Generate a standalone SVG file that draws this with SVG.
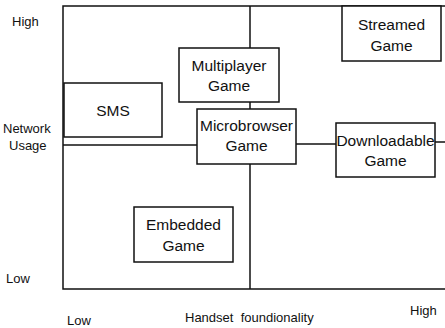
<svg xmlns="http://www.w3.org/2000/svg" width="445" height="328" viewBox="0 0 445 328">
<style>
.b{fill:#fff;stroke:#111;stroke-width:1.5}
.l{fill:none;stroke:#111;stroke-width:1.5}
text{font-family:"Liberation Sans",Arial,sans-serif;fill:#111}
.t{font-size:15.5px;text-anchor:middle}
.a{font-size:13px}
</style>
<g id="connectors">
<polyline class="l" points="445,6 63,6 63,289 445,289"/>
<line class="l" x1="250" y1="6" x2="250" y2="48"/>
<line class="l" x1="250" y1="102" x2="250" y2="109"/>
<line class="l" x1="250" y1="164" x2="250" y2="289"/>
<line class="l" x1="63" y1="145" x2="197" y2="145"/>
<line class="l" x1="296" y1="144" x2="336" y2="144"/>
<line class="l" x1="435" y1="142" x2="445" y2="142"/>
</g>
<g id="sms"><rect class="b" x="64" y="83" width="98" height="54"/><text class="t" x="113" y="116">SMS</text></g>
<g id="multiplayer"><rect class="b" x="179" y="48" width="100" height="54"/><text class="t" x="229" y="71">Multiplayer</text><text class="t" x="229" y="91">Game</text></g>
<g id="microbrowser"><rect class="b" x="197" y="109" width="99" height="55"/><text class="t" x="246.500" y="131">Microbrowser</text><text class="t" x="246.500" y="151">Game</text></g>
<g id="streamed"><rect class="b" x="342" y="6" width="99" height="55"/><text class="t" x="391.500" y="30">Streamed</text><text class="t" x="391.500" y="51">Game</text></g>
<g id="downloadable"><rect class="b" x="336" y="123" width="99" height="54"/><text class="t" x="385.500" y="146">Downloadable</text><text class="t" x="385.500" y="166">Game</text></g>
<g id="embedded"><rect class="b" x="134" y="207" width="99" height="55"/><text class="t" x="183.500" y="230">Embedded</text><text class="t" x="183.500" y="251">Game</text></g>
<g id="axis-labels">
<text class="a" x="12" y="26">High</text>
<text class="a" x="3" y="133">Network</text>
<text class="a" x="9" y="150">Usage</text>
<text class="a" x="6" y="283">Low</text>
<text class="a" x="67" y="325">Low</text>
<text class="a" x="185" y="322" xml:space="preserve">Handset  foundionality</text>
<text class="a" x="410" y="315">High</text>
</g>
</svg>
